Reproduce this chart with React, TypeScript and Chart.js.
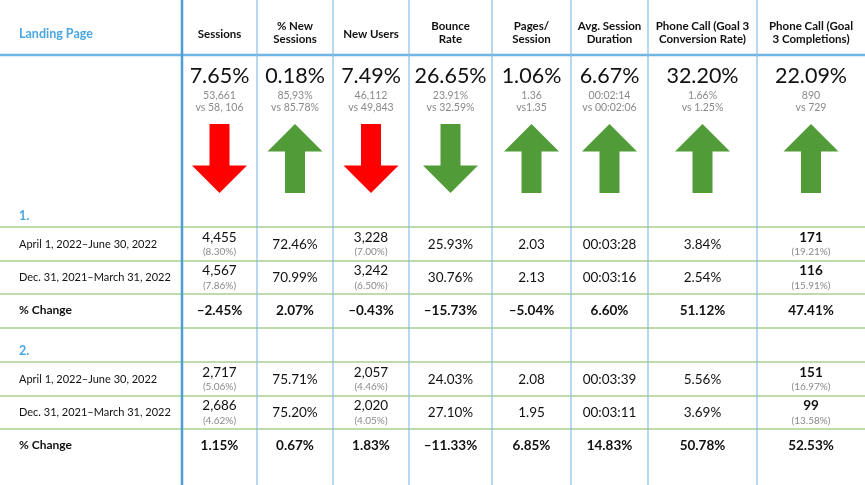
import React, { useEffect, useRef } from 'react';
import { Chart, registerables } from 'chart.js';
Chart.register(...registerables);

// ---------- data ----------
const firstHeader = 'Landing Page';
const metricHeaders = [
  ['Sessions'],
  ['% New', 'Sessions'],
  ['New Users'],
  ['Bounce', 'Rate'],
  ['Pages/', 'Session'],
  ['Avg. Session', 'Duration'],
  ['Phone Call (Goal 3', 'Conversion Rate)'],
  ['Phone Call (Goal', '3 Completions)'],
];
const headlineChange = ['7.65%', '0.18%', '7.49%', '26.65%', '1.06%', '6.67%', '32.20%', '22.09%'];
const currentTotals = ['53,661', '85,93%', '46,112', '23.91%', '1.36', '00:02:14', '1.66%', '890'];
const previousTotals = ['vs 58, 106', 'vs 85.78%', 'vs 49,843', 'vs 32.59%', 'vs1.35', 'vs 00:02:06', 'vs 1.25%', 'vs 729'];
const arrowUp = [false, true, false, false, true, true, true, true];
const arrowGood = [false, true, false, true, true, true, true, true];

const groupLabels = ['1.', '2.'];
const periodLabels = ['April 1, 2022–June 30, 2022', 'Dec. 31, 2021–March 31, 2022'];
const changeLabel = '% Change';

const g1Current = ['4,455', '72.46%', '3,228', '25.93%', '2.03', '00:03:28', '3.84%', '171'];
const g1CurrentShare = ['(8.30%)', '', '(7.00%)', '', '', '', '', '(19.21%)'];
const g1Previous = ['4,567', '70.99%', '3,242', '30.76%', '2.13', '00:03:16', '2.54%', '116'];
const g1PreviousShare = ['(7.86%)', '', '(6.50%)', '', '', '', '', '(15.91%)'];
const g1Change = ['–2.45%', '2.07%', '–0.43%', '–15.73%', '–5.04%', '6.60%', '51.12%', '47.41%'];

const g2Current = ['2,717', '75.71%', '2,057', '24.03%', '2.08', '00:03:39', '5.56%', '151'];
const g2CurrentShare = ['(5.06%)', '', '(4.46%)', '', '', '', '', '(16.97%)'];
const g2Previous = ['2,686', '75.20%', '2,020', '27.10%', '1.95', '00:03:11', '3.69%', '99'];
const g2PreviousShare = ['(4.62%)', '', '(4.05%)', '', '', '', '', '(13.58%)'];
const g2Change = ['1.15%', '0.67%', '1.83%', '–11.33%', '6.85%', '14.83%', '50.78%', '52.53%'];

const groups = [
  { label: groupLabels[0], cur: g1Current, curS: g1CurrentShare, prev: g1Previous, prevS: g1PreviousShare, chg: g1Change },
  { label: groupLabels[1], cur: g2Current, curS: g2CurrentShare, prev: g2Previous, prevS: g2PreviousShare, chg: g2Change },
];

// ---------- layout (in scale units = px) ----------
const W = 865;
const H = 485;
const colEdges = [0, 182, 257, 333, 409, 492, 571, 648, 757, 865];
const headerLineY = 55;
const greenLines = [227, 261, 294, 328, 362, 396, 429];
const groupTop = [194, 329];

const FONT = 'Lato, "Open Sans", sans-serif';
const BLUE = '#4aa6e0';
const GRID_BLUE = '#86bfe6';
const GREEN_LINE = '#a9d18e';
const GRAY = '#8a8a8a';
const RED = '#ff0000';
const GREEN = '#519b38';

const tablePlugin = {
  id: 'tablePlugin',
  afterDraw(chart: any) {
    const ctx = chart.ctx as CanvasRenderingContext2D;
    const xs = chart.scales.x;
    const ys = chart.scales.y;
    const X = (v: number) => xs.getPixelForValue(v);
    const Y = (v: number) => ys.getPixelForValue(v);
    const colCenter = (i: number) => X((colEdges[i + 1] + colEdges[i + 2]) / 2);

    ctx.save();
    ctx.fillStyle = '#ffffff';
    ctx.fillRect(X(0), Y(0), X(W) - X(0), Y(H) - Y(0));

    ctx.strokeStyle = GREEN_LINE;
    ctx.lineWidth = 1.5;
    greenLines.forEach((gy) => {
      ctx.beginPath();
      ctx.moveTo(X(0), Y(gy));
      ctx.lineTo(X(W), Y(gy));
      ctx.stroke();
    });
    ctx.strokeStyle = '#6fb5e4';
    ctx.lineWidth = 2.5;
    ctx.beginPath();
    ctx.moveTo(X(0), Y(headerLineY));
    ctx.lineTo(X(W), Y(headerLineY));
    ctx.stroke();

    for (let i = 1; i < colEdges.length - 1; i++) {
      ctx.strokeStyle = i === 1 ? '#4a9edb' : GRID_BLUE;
      ctx.lineWidth = i === 1 ? 2.5 : 1.2;
      ctx.beginPath();
      ctx.moveTo(X(colEdges[i]), Y(0));
      ctx.lineTo(X(colEdges[i]), Y(H));
      ctx.stroke();
    }

    const text = (t: string, x: number, y: number, font: string, color: string, align: CanvasTextAlign = 'center') => {
      ctx.font = font;
      ctx.fillStyle = color;
      ctx.textAlign = align;
      ctx.textBaseline = 'middle';
      ctx.fillText(t, x, y);
    };

    text(firstHeader, X(19), Y(34), `bold 12.5px ${FONT}`, BLUE, 'left');
    metricHeaders.forEach((lines, i) => {
      const cx = colCenter(i);
      if (lines.length === 1) text(lines[0], cx, Y(34), `bold 11.5px ${FONT}`, '#111');
      else {
        text(lines[0], cx, Y(26), `bold 11.5px ${FONT}`, '#111');
        text(lines[1], cx, Y(39.5), `bold 11.5px ${FONT}`, '#111');
      }
    });

    headlineChange.forEach((v, i) => {
      const cx = colCenter(i);
      text(v, cx, Y(76), `21.5px ${FONT}`, '#111');
      text(currentTotals[i], cx, Y(95.5), `10.5px ${FONT}`, GRAY);
      text(previousTotals[i], cx, Y(107.5), `10.5px ${FONT}`, GRAY);

      const top = Y(124);
      const bot = Y(193);
      const hw = 27.5;
      const sw = 10;
      const hh = 27.5;
      ctx.fillStyle = arrowGood[i] ? GREEN : RED;
      ctx.beginPath();
      if (arrowUp[i]) {
        ctx.moveTo(cx, top);
        ctx.lineTo(cx + hw, top + hh);
        ctx.lineTo(cx + sw, top + hh);
        ctx.lineTo(cx + sw, bot);
        ctx.lineTo(cx - sw, bot);
        ctx.lineTo(cx - sw, top + hh);
        ctx.lineTo(cx - hw, top + hh);
      } else {
        ctx.moveTo(cx, bot);
        ctx.lineTo(cx + hw, bot - hh);
        ctx.lineTo(cx + sw, bot - hh);
        ctx.lineTo(cx + sw, top);
        ctx.lineTo(cx - sw, top);
        ctx.lineTo(cx - sw, bot - hh);
        ctx.lineTo(cx - hw, bot - hh);
      }
      ctx.closePath();
      ctx.fill();
    });

    groups.forEach((g, gi) => {
      const base = groupTop[gi];
      text(g.label, X(19), Y(base + 21.5), `bold 12.5px ${FONT}`, BLUE, 'left');
      const rowsY = [base + 50, base + 83.5];
      const vals = [g.cur, g.prev];
      const shares = [g.curS, g.prevS];
      rowsY.forEach((ry, ri) => {
        text(periodLabels[ri], X(19), Y(ry), `11px ${FONT}`, '#111', 'left');
        vals[ri].forEach((v, i) => {
          const cx = colCenter(i);
          const bold = i === metricHeaders.length - 1;
          const f = `${bold ? 'bold ' : ''}13.5px ${FONT}`;
          if (shares[ri][i]) {
            text(v, cx, Y(ry - 6.5), f, '#111');
            text(shares[ri][i], cx, Y(ry + 8), `10px ${FONT}`, GRAY);
          } else {
            text(v, cx, Y(ry + 0.5), f, '#111');
          }
        });
      });
      const cy = base + 117;
      text(changeLabel, X(19), Y(cy - 1), `bold 12px ${FONT}`, '#111', 'left');
      g.chg.forEach((v, i) => text(v, colCenter(i), Y(cy), `bold 13.5px ${FONT}`, '#111'));
    });
    ctx.restore();
  },
};

export default function App() {
  const ref = useRef<HTMLCanvasElement | null>(null);
  useEffect(() => {
    document.body.style.margin = '0';
    const canvas = ref.current!;
    const chart = new Chart(canvas, {
      type: 'scatter',
      data: { datasets: [{ data: [] }] },
      options: {
        animation: false,
        responsive: false,
        devicePixelRatio: 1,
        layout: { padding: 0 },
        plugins: { legend: { display: false }, tooltip: { enabled: false } },
        scales: {
          x: { type: 'linear', min: 0, max: W, display: false },
          y: { type: 'linear', min: 0, max: H, reverse: true, display: false },
        },
      },
      plugins: [tablePlugin],
    });
    return () => chart.destroy();
  }, []);
  return (
    <div style={{ width: W, height: H }}>
      <canvas ref={ref} width={W} height={H} style={{ display: 'block' }} />
    </div>
  );
}
